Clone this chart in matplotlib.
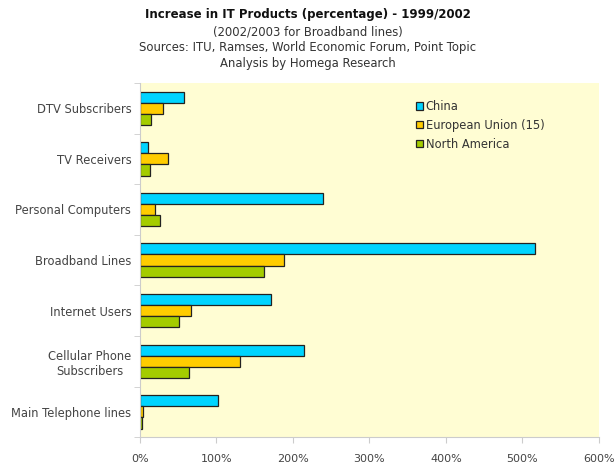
import numpy as np
import matplotlib.pyplot as plt
from matplotlib.ticker import FixedLocator, PercentFormatter

categorias = ['DTV Subscribers', 'TV Receivers', 'Personal Computers',
              'Broadband Lines', 'Internet Users', 'Cellular Phone\nSubscribers',
              'Main Telephone lines']
china = [58, 10.5, 239, 517, 171, 215, 102]
ue15 = [31, 37, 20, 188, 67, 131, 5]
america_norte = [15, 14, 27, 163, 51, 64, 3.5]
series = ['China', 'European Union (15)', 'North America']
cores = ['#00D4FF', '#FFCC00', '#A4CC00']

fig = plt.figure(figsize=(6.15, 4.66), dpi=100)
ax = fig.add_axes([0.227, 0.062, 0.747, 0.76])
ax.set_facecolor('#FFFDD3')

y = np.arange(len(categorias))
h = 0.22
for i, (vals, nome, cor) in enumerate(zip([china, ue15, america_norte], series, cores)):
    ax.barh(y + (i - 1) * h, vals, height=h, color=cor, edgecolor='#222222',
            linewidth=0.9, label=nome)

ax.set_ylim(6.5, -0.5)
ax.set_xlim(0, 600)
ax.set_yticks(y)
ax.set_yticklabels(categorias, fontsize=8.3, color='#444444', ha='right',
                   multialignment='center')
ax.tick_params(axis='y', which='major', length=0, pad=6)
ax.yaxis.set_minor_locator(FixedLocator(np.arange(-0.5, 7, 1)))
ax.tick_params(axis='y', which='minor', length=4, color='#cccccc')
ax.set_xticks(np.arange(0, 601, 100))
ax.xaxis.set_major_formatter(PercentFormatter(decimals=0))
ax.tick_params(axis='x', length=4, color='#cccccc', labelsize=8,
               labelcolor='#444444', pad=8)
for lado in ['top', 'right']:
    ax.spines[lado].set_visible(False)
for lado in ['left', 'bottom']:
    ax.spines[lado].set_color('#cccccc')

leg = ax.legend(loc='upper left', bbox_to_anchor=(0.58, 0.981), frameon=False,
                fontsize=8.3, handlelength=0.6, handleheight=0.6,
                handletextpad=0.2, labelspacing=0.5)
for t in leg.get_texts():
    t.set_color('#333333')

fig.text(0.5, 0.962, 'Increase in IT Products (percentage) - 1999/2002',
         ha='center', fontsize=8.5, fontweight='bold', color='#111111')
fig.text(0.5, 0.923, '(2002/2003 for Broadband lines)', ha='center',
         fontsize=8.4, color='#333333')
fig.text(0.5, 0.890, 'Sources: ITU, Ramses, World Economic Forum, Point Topic',
         ha='center', fontsize=8.4, color='#333333')
fig.text(0.5, 0.857, 'Analysis by Homega Research', ha='center',
         fontsize=8.4, color='#333333')

fig.savefig('out.png', dpi=100)
